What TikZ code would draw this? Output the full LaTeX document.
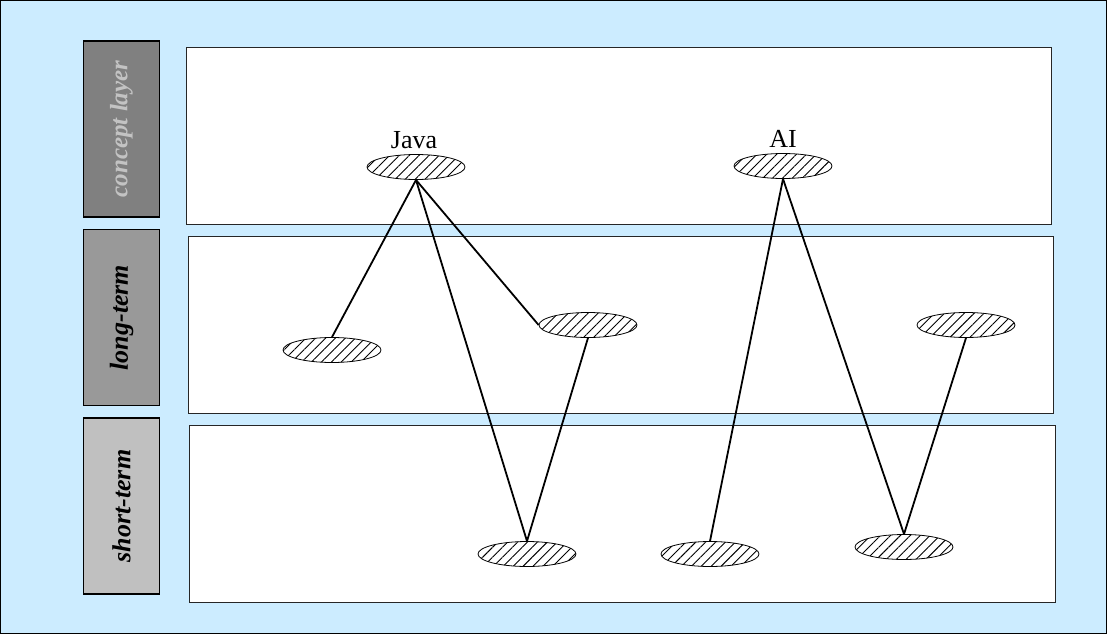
\documentclass[tikz,border=0pt]{standalone}
\usepackage{fontspec}
\setmainfont{Liberation Serif}
\usetikzlibrary{patterns.meta,shapes.geometric}
\definecolor{bgblue}{RGB}{204,236,255}
\definecolor{labA}{RGB}{128,128,128}
\definecolor{labB}{RGB}{153,153,153}
\definecolor{labC}{RGB}{192,192,192}
\definecolor{txtA}{RGB}{195,195,195}
\begin{document}
\begin{tikzpicture}[x=1pt,y=-1pt,
  panel/.style={draw=black!85,line width=1pt,fill=white},
  labbox/.style={draw=black,line width=1.5pt,minimum width=76pt,minimum height=176pt,inner sep=0pt,
     font=\fontsize{26}{28}\selectfont\bfseries\itshape},
  conc/.style={ellipse,draw=black,line width=0.8pt,minimum width=98pt,minimum height=25pt,inner sep=0pt,
     pattern={Lines[angle=45,distance=7pt,line width=0.9pt]}},
  link/.style={line width=1.8pt},
  word/.style={font=\fontsize{26}{28}\selectfont,inner sep=0pt}]
\useasboundingbox (0,0) rectangle (1107,634);
\draw[fill=bgblue,line width=1pt] (0.5,0.5) rectangle (1106.5,633.5);
% label boxes
\node[labbox,fill=labA,text=txtA,font=\fontsize{25}{27}\selectfont\bfseries\itshape] (lc) at (121.5,129) {\rotatebox{90}{concept layer}};
\node[labbox,fill=labB] (ll) at (121.5,317.5) {\rotatebox{90}{long-term}};
\node[labbox,fill=labC] (ls) at (121.5,506) {\rotatebox{90}{short-term}};
% panels
\draw[panel] (186,48) rectangle (1051,224);
\draw[panel] (188,236) rectangle (1053,413);
\draw[panel] (189,425) rectangle (1055,602);
% concepts
\node[conc] (java) at (416,167) {};
\node[conc] (ai) at (783,166) {};
\node[word,anchor=base] (tjava) at (414,148) {Java};
\node[word,anchor=base] (tai) at (783,147) {AI};
\node[conc] (l1) at (332,350) {};
\node[conc] (l2) at (588,325) {};
\node[conc] (l3) at (966,325) {};
\node[conc] (s1) at (527,554) {};
\node[conc] (s2) at (710,554) {};
\node[conc] (s3) at (904,547) {};
% links
\draw[link] (java.south) -- (l1.north);
\draw[link] (java.south) -- (l2.west);
\draw[link] (java.south) -- (s1.north);
\draw[link] (l2.south) -- (s1.north);
\draw[link] (ai.south) -- (s2.north);
\draw[link] (ai.south) -- (s3.north);
\draw[link] (l3.south) -- (s3.north);
\end{tikzpicture}
\end{document}
